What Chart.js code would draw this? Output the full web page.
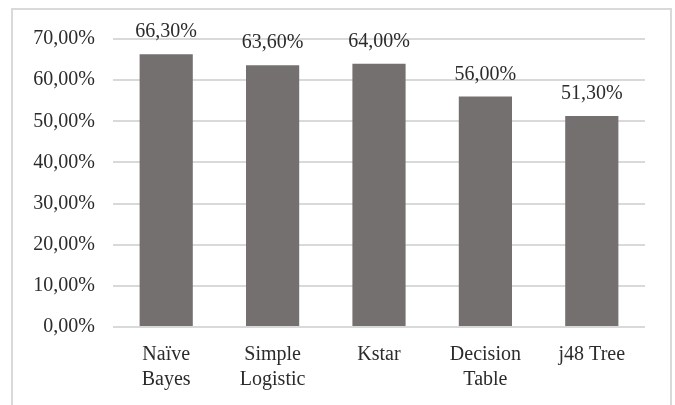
<!DOCTYPE html>
<html>
<head>
<meta charset="utf-8">
<script src="https://cdn.jsdelivr.net/npm/chart.js@4/dist/chart.umd.min.js"></script>
<style>
  html, body { margin: 0; padding: 0; background: #fff; overflow: hidden; }
  #wrap { position: relative; width: 675px; height: 405px; }
  #frame { position: absolute; left: 11px; top: 8px; width: 661px; height: 420px; border: 2px solid #d9d9d9; box-sizing: border-box; }
  canvas { position: absolute; left: 0; top: 0; }
</style>
</head>
<body>
<div id="wrap">
  <div id="frame"></div>
  <canvas id="c" width="675" height="405"></canvas>
</div>
<script>
const categories = [["Naïve", "Bayes"], ["Simple", "Logistic"], "Kstar", ["Decision", "Table"], "j48 Tree"];
const accuracy = [66.3, 63.6, 64.0, 56.0, 51.3];
const yTicks = [0, 10, 20, 30, 40, 50, 60, 70];

const fmt = v => v.toFixed(2).replace('.', ',') + '%';
const FONT = "'Liberation Serif', 'Times New Roman', serif";
const TEXT = '#2b2b2b';

const labelPlugin = {
  id: 'barLabels',
  afterDatasetsDraw(chart) {
    const ctx = chart.ctx;
    const meta = chart.getDatasetMeta(0);
    ctx.save();
    ctx.font = '20px ' + FONT;
    ctx.fillStyle = TEXT;
    ctx.textAlign = 'center';
    ctx.textBaseline = 'alphabetic';
    meta.data.forEach((bar, i) => {
      ctx.fillText(fmt(chart.data.datasets[0].data[i]), bar.x, bar.y - 17);
    });
    ctx.restore();
  }
};

new Chart(document.getElementById('c'), {
  type: 'bar',
  data: {
    labels: categories,
    datasets: [{
      data: accuracy,
      backgroundColor: '#757070',
      borderWidth: 0,
      barPercentage: 0.5,
      categoryPercentage: 1.0
    }]
  },
  options: {
    responsive: false,
    animation: false,
    devicePixelRatio: 1,
    layout: { padding: { left: 0, top: 39, right: 30, bottom: 0 } },
    plugins: { legend: { display: false }, tooltip: { enabled: false } },
    scales: {
      x: {
        grid: { display: false, drawTicks: false },
        border: { display: false },
        ticks: { color: TEXT, font: { family: FONT, size: 20, lineHeight: 1.25 }, padding: 15, maxRotation: 0, autoSkip: false },
        afterFit(scale) { scale.height = 78; }
      },
      y: {
        min: 0, max: 70,
        afterBuildTicks(scale) { scale.ticks = yTicks.map(v => ({ value: v })); },
        grid: { color: '#d9d9d9', lineWidth: 2, drawTicks: false },
        border: { display: false },
        ticks: { color: TEXT, font: { family: FONT, size: 20 }, padding: 18, callback: v => fmt(v) },
        afterFit(scale) { scale.width = 113; }
      }
    }
  },
  plugins: [labelPlugin]
});
</script>
</body>
</html>
